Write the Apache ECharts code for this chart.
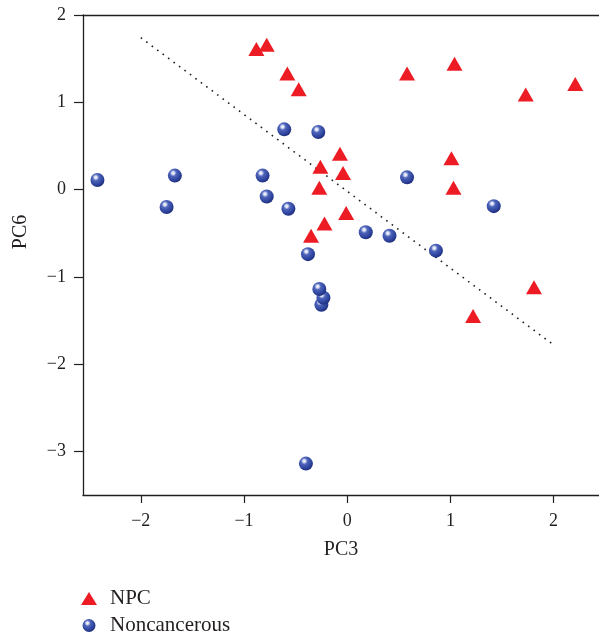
<!DOCTYPE html>
<html>
<head>
<meta charset="utf-8">
<script src="https://cdn.jsdelivr.net/npm/echarts@6/dist/echarts.min.js"></script>
<style>
html,body{margin:0;padding:0;background:#fff;}
#chart{width:599px;height:637px;}
</style>
</head>
<body>
<div id="chart"></div>
<script>
// NPC samples (PC3, PC6)
const npcX = [-0.88, -0.78, -0.58, -0.47, 0.58, 1.04, 1.73, 2.21, -0.07, -0.26, -0.04, -0.27, 1.01, 1.03, -0.01, -0.22, -0.35, 1.81, 1.22];
const npcY = [1.61, 1.66, 1.33, 1.15, 1.33, 1.44, 1.09, 1.21, 0.41, 0.26, 0.19, 0.02, 0.36, 0.02, -0.27, -0.39, -0.53, -1.12, -1.45];
// Noncancerous samples (PC3, PC6)
const ncX = [-2.42, -1.67, -1.75, -0.82, -0.78, -0.57, -0.61, -0.28, 0.58, 1.42, 0.18, 0.41, 0.86, -0.38, -0.25, -0.23, -0.27, -0.40];
const ncY = [0.11, 0.16, -0.20, 0.16, -0.08, -0.22, 0.69, 0.66, 0.14, -0.19, -0.49, -0.53, -0.70, -0.74, -1.32, -1.24, -1.14, -3.14];
// Dotted separating line
const lineX = [-2, 2];
const lineY = [1.74, -1.78];
// Axis ticks
const xTicks = [-2, -1, 0, 1, 2];
const yTicks = [-3, -2, -1, 0, 1, 2];
const seriesNames = ['NPC', 'Noncancerous'];
const xName = 'PC3';
const yName = 'PC6';

const zip = (a, b) => a.map((v, i) => [v, b[i]]);
const fmt = v => (v < 0 ? '\u2212' + Math.abs(v) : String(v));
const ink = '#231f20';
const serif = 'Liberation Serif';
const X_MIN = -2.56, X_MAX = 2.44;

const chart = echarts.init(document.getElementById('chart'), null, {renderer: 'canvas'});
chart.setOption({
  animation: false,
  backgroundColor: '#fff',
  grid: {left: 83, top: 15, right: 0, bottom: 142, show: false},
  xAxis: [{
    type: 'value', min: X_MIN, max: X_MAX, position: 'bottom',
    name: xName, nameLocation: 'middle', nameGap: 45,
    nameTextStyle: {fontFamily: serif, fontSize: 20, color: ink},
    axisLine: {onZero: false, lineStyle: {color: ink, width: 1.3}},
    axisTick: {show: true, inside: false, length: 8, customValues: xTicks, lineStyle: {color: ink, width: 1.2}},
    axisLabel: {customValues: xTicks, formatter: fmt, margin: 17, fontFamily: serif, fontSize: 18, color: ink},
    splitLine: {show: false}
  }, {
    type: 'value', min: X_MIN, max: X_MAX, position: 'top',
    axisLine: {show: true, onZero: false, lineStyle: {color: ink, width: 1.3}},
    axisTick: {show: false}, axisLabel: {show: false}, splitLine: {show: false}
  }],
  yAxis: {
    type: 'value', min: -3.5, max: 2,
    name: yName, nameLocation: 'middle', nameGap: 52, nameRotate: 90,
    nameTextStyle: {fontFamily: serif, fontSize: 20, color: ink, padding: [0, 0, 0, 46]},
    axisLine: {show: true, onZero: false, lineStyle: {color: ink, width: 1.3}},
    axisTick: {show: true, inside: false, length: 9, customValues: yTicks, lineStyle: {color: ink, width: 1.2}},
    axisLabel: {customValues: yTicks, formatter: fmt, margin: 17, fontFamily: serif, fontSize: 18, color: ink},
    splitLine: {show: false}
  },
  legend: {
    orient: 'vertical', left: 81, top: 588, height: 80, width: 300, padding: 0,
    itemWidth: 16, itemHeight: 13, itemGap: 6,
    data: seriesNames,
    textStyle: {fontFamily: serif, fontSize: 21, color: ink, padding: [0, 0, 0, 8]}
  },
  series: [
    {
      type: 'line', name: 'sep', data: zip(lineX, lineY), symbol: 'none', silent: true, z: 1,
      lineStyle: {color: '#222', width: 1.6, type: [1.6, 5.2]}
    },
    {
      type: 'scatter', name: seriesNames[0], data: zip(npcX, npcY), z: 3,
      symbol: 'triangle', symbolSize: [16, 14],
      itemStyle: {color: '#ed1c24', opacity: 1},
      emphasis: {disabled: true}
    },
    {
      type: 'scatter', name: seriesNames[1], data: zip(ncX, ncY), z: 4,
      symbol: 'circle', symbolSize: 14,
      itemStyle: {
        opacity: 1,
        color: {type: 'radial', x: 0.38, y: 0.32, r: 0.72, colorStops: [
          {offset: 0, color: '#ffffff'},
          {offset: 0.14, color: '#d6dcf2'},
          {offset: 0.32, color: '#4f66bb'},
          {offset: 0.75, color: '#2c419b'},
          {offset: 1, color: '#1c2b74'}
        ]}
      },
      emphasis: {disabled: true}
    }
  ]
});
</script>
</body>
</html>
